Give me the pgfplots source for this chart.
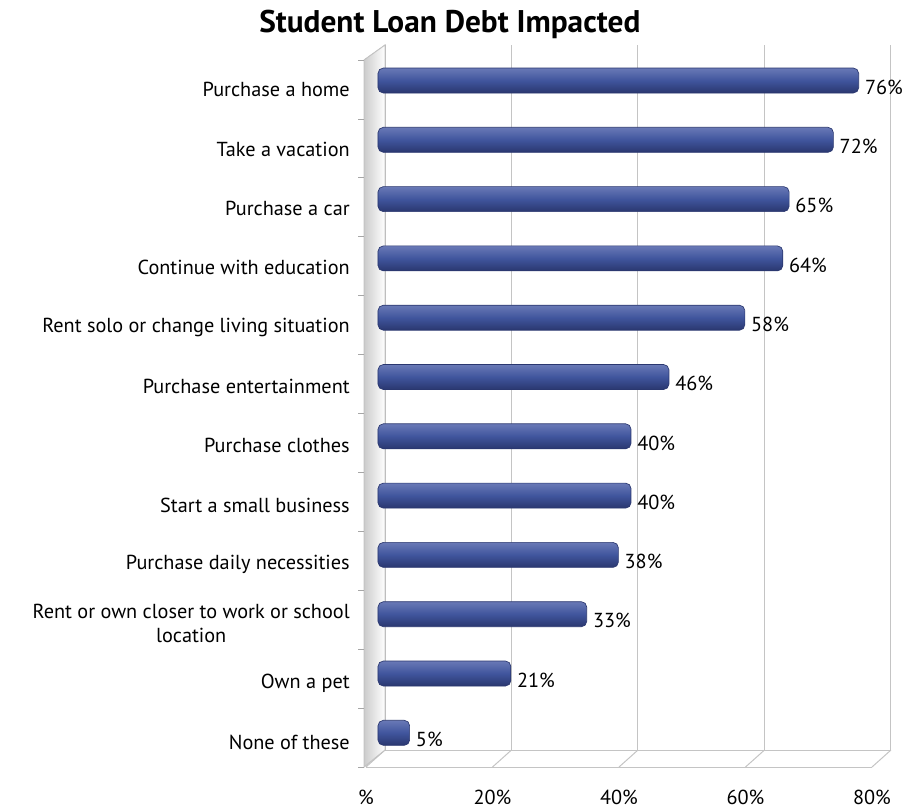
\documentclass[border=0pt]{standalone}
\usepackage{fontspec}
\setmainfont{PT Sans}
\usepackage{pgfplots}
\pgfplotsset{compat=1.18}

\definecolor{barmid}{HTML}{40559D}
\definecolor{barlight}{HTML}{6979B6}
\definecolor{bardark}{HTML}{2A376F}
\definecolor{gridgray}{HTML}{C4C4C4}

% one bar per \addplot so that each bar gets its own shading
\pgfplotsset{
    onebar/.style={xbar, bar shift=0pt, bar width=18.75pt,
        draw=bardark, line width=0.5pt,
        top color=barlight, bottom color=bardark, middle color=barmid,
        rounded corners=4pt,
        point meta=x,
        nodes near coords={\pgfmathprintnumber[assume math mode=true]{\pgfplotspointmeta}\%},
        nodes near coords style={anchor=west, inner sep=0pt, xshift=4.5pt, yshift=-5pt,
            text=black, font=\fontsize{15.2}{18}\selectfont}},
}

\begin{document}
\begin{tikzpicture}
\useasboundingbox (0,0) rectangle (678pt,606pt);
\begin{axis}[
    at={(283.5pt,34.16pt)}, anchor=south west,
    scale only axis,
    width=379.5pt, height=533.7pt,
    xmin=0, xmax=80,
    ymin=-0.5, ymax=11.5,
    y dir=reverse,
    clip=false,
    axis line style={draw=none},
    tick style={draw=none},
    xtick={0,20,40,60,80},
    xticklabels={\%,20\%,40\%,60\%,80\%},
    xticklabel style={anchor=center, xshift=-9pt, yshift=-26pt, font=\fontsize{15.2}{18}\selectfont},
    ytick={0,...,11},
    yticklabels={Purchase a home, Take a vacation, Purchase a car, Continue with education,
        Rent solo or change living situation, Purchase entertainment, Purchase clothes,
        Start a small business, Purchase daily necessities,
        {Rent or own closer to work or school\\location}, Own a pet, None of these},
    yticklabel style={anchor=east, align=center, inner sep=0pt, xshift=-21pt, yshift=-7pt,
        font=\fontsize{15.2}{18.5}\selectfont},
    title={\bfseries Student Loan Debt Impacted},
    title style={at={(0.142,1)}, anchor=base, inner sep=0pt, yshift=8pt, font=\fontsize{23.5}{27}\selectfont},
]

% back wall grid, floor and left wall
\pgfplotsinvokeforeach{0,20,40,60,80}{
    \draw[gridgray, line width=0.75pt] (axis cs:#1+1.107,11.29) -- (axis cs:#1+1.107,-0.599);
    \draw[gridgray, line width=0.75pt] (axis cs:#1-1.897,11.577) -- (axis cs:#1+1.107,11.29);
}
\draw[gridgray, line width=0.75pt] (axis cs:-1.897,11.577) -- (axis cs:78.1,11.577);
\draw[gridgray, line width=0.75pt] (axis cs:1.107,11.29) -- (axis cs:81.1,11.29);
\fill[left color=gray!40, right color=white]
    (axis cs:-2.213,11.577) -- (axis cs:-2.213,-0.346) -- (axis cs:1.107,-0.599) -- (axis cs:1.107,11.29) -- cycle;
\draw[gridgray, line width=0.75pt] (axis cs:-2.213,11.577) -- (axis cs:-2.213,-0.346) -- (axis cs:1.107,-0.599) -- (axis cs:1.107,11.29) -- cycle;
\pgfplotsinvokeforeach{0,...,12}{
    \draw[gray!70, line width=0.6pt] (axis cs:-3.15,-0.346+0.99355*#1) -- (axis cs:-2.213,-0.346+0.99355*#1);
}

\addplot[onebar] coordinates {(76,0)};
\addplot[onebar] coordinates {(72,1)};
\addplot[onebar] coordinates {(65,2)};
\addplot[onebar] coordinates {(64,3)};
\addplot[onebar] coordinates {(58,4)};
\addplot[onebar] coordinates {(46,5)};
\addplot[onebar] coordinates {(40,6)};
\addplot[onebar] coordinates {(40,7)};
\addplot[onebar] coordinates {(38,8)};
\addplot[onebar] coordinates {(33,9)};
\addplot[onebar] coordinates {(21,10)};
\addplot[onebar] coordinates {(5,11)};
\end{axis}
\end{tikzpicture}
\end{document}
